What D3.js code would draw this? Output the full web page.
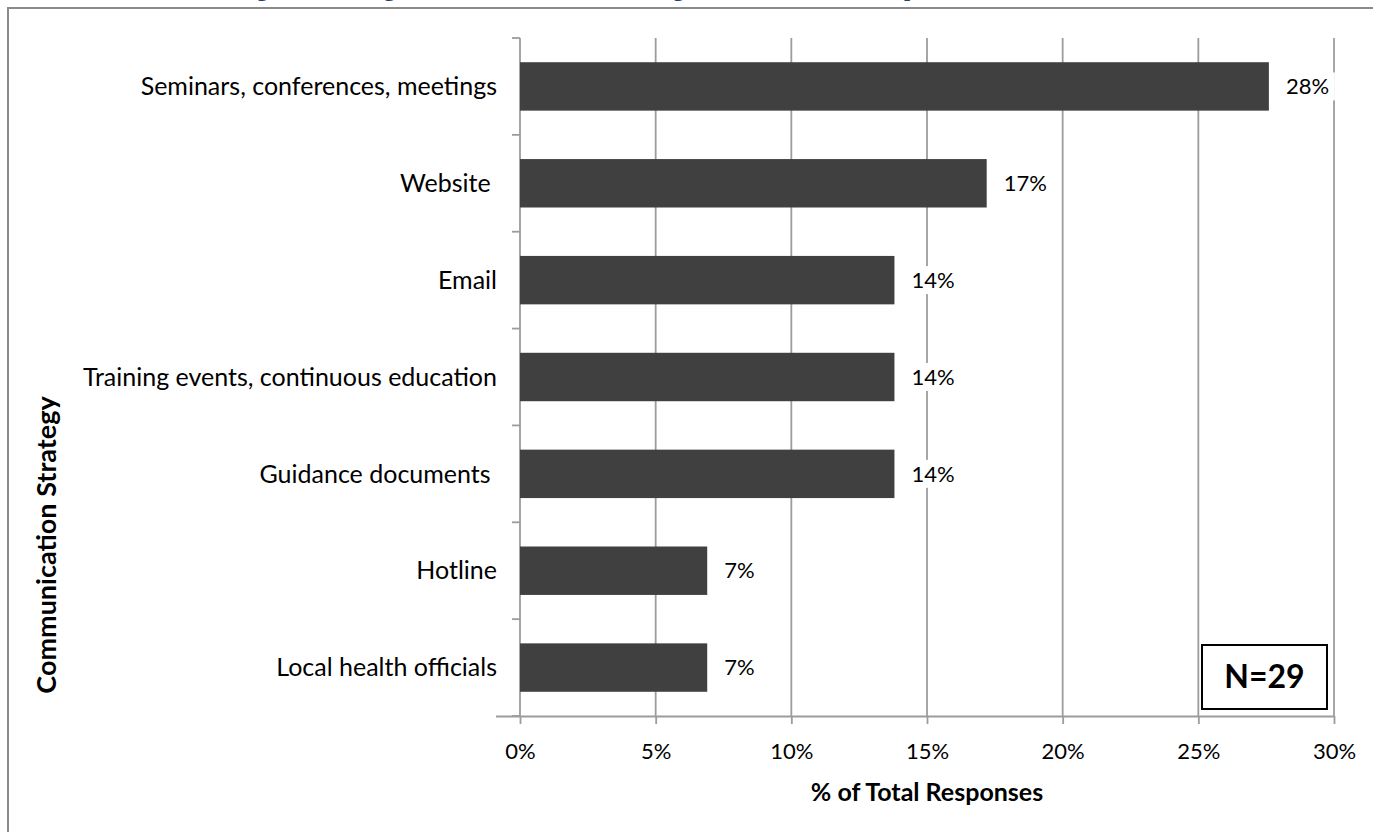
<!DOCTYPE html>
<html>
<head>
<meta charset="utf-8">
<script src="https://cdn.jsdelivr.net/npm/d3@7"></script>
<style>
  html, body { margin: 0; padding: 0; background: #fff; }
  svg { display: block; }
  text { white-space: pre; }
</style>
</head>
<body>
<script>
// ---- data ----
const categories = [
  "Seminars, conferences, meetings",
  "Website ",
  "Email",
  "Training events, continuous education",
  "Guidance documents ",
  "Hotline",
  "Local health officials"
];
const values = [0.276, 0.172, 0.138, 0.138, 0.138, 0.069, 0.069];
const xTickValues = [0, 0.05, 0.10, 0.15, 0.20, 0.25, 0.30];
const titleText = "Figure 7. Strategies Used when Communicating Guidance to Health Department Staff";
const xAxisTitle = "% of Total Responses";
const yAxisTitle = "Communication Strategy";
const noteText = "N=29";

// ---- layout ----
const W = 1373, H = 832;
const plot = { left: 520, right: 1334, top: 38, bottom: 716 };
const font = "Lato, 'Open Sans', sans-serif";
const grid = "#9c9c9c";

const svg = d3.select("body").append("svg").attr("width", W).attr("height", H);

// caption above the chart frame (cut off at the top edge, as in the source)
svg.append("text")
  .attr("x", 640).attr("y", -4)
  .attr("text-anchor", "middle")
  .attr("font-family", "'Liberation Serif', serif")
  .attr("font-weight", "bold")
  .attr("font-size", 22)
  .attr("fill", "#244061")
  .text(titleText);

// outer frame
svg.append("rect")
  .attr("x", 8).attr("y", 8).attr("width", W + 20).attr("height", H + 20)
  .attr("fill", "none").attr("stroke", "#8a8a8a").attr("stroke-width", 2);

const x = d3.scaleLinear().domain([0, 0.30]).range([plot.left, plot.right]);
const y = d3.scaleBand().domain(categories).range([plot.top, plot.bottom])
  .paddingInner(0.5).paddingOuter(0.25);
const step = y.step();

// vertical gridlines
svg.append("g").selectAll("line").data(xTickValues.filter(d => d > 0)).join("line")
  .attr("x1", d => x(d)).attr("x2", d => x(d))
  .attr("y1", plot.top).attr("y2", plot.bottom)
  .attr("stroke", grid).attr("stroke-width", 1.8);

// x axis
const xAxis = svg.append("g").attr("transform", `translate(0,${plot.bottom})`)
  .call(d3.axisBottom(x).tickValues(xTickValues).tickFormat(d3.format(".0%"))
    .tickSize(8).tickPadding(19).tickSizeOuter(0));
xAxis.select(".domain").attr("stroke", grid).attr("stroke-width", 1.8)
  .attr("d", `M${plot.left - 24},0.5H${plot.right}`);
xAxis.selectAll(".tick line").attr("stroke", grid).attr("stroke-width", 1.8);
xAxis.selectAll(".tick text").attr("font-family", font).attr("font-size", 22).attr("fill", "#000");

// y axis line and band-boundary ticks
svg.append("line")
  .attr("x1", plot.left).attr("x2", plot.left)
  .attr("y1", plot.top).attr("y2", plot.bottom)
  .attr("stroke", grid).attr("stroke-width", 1.8);
const boundaries = categories.map(c => y(c) - step * y.paddingInner() / 2);
boundaries.push(plot.bottom);
svg.append("g").selectAll("line").data(boundaries).join("line")
  .attr("x1", plot.left - 8).attr("x2", plot.left)
  .attr("y1", d => d).attr("y2", d => d)
  .attr("stroke", grid).attr("stroke-width", 1.8);

// category labels
svg.append("g").selectAll("text").data(categories).join("text")
  .attr("x", plot.left - 23)
  .attr("y", d => y(d) + y.bandwidth() / 2)
  .attr("dy", "0.35em")
  .attr("text-anchor", "end")
  .attr("font-family", font).attr("font-size", 25).attr("fill", "#000")
  .text(d => d);

// bars
svg.append("g").selectAll("rect").data(values).join("rect")
  .attr("x", x(0))
  .attr("y", (d, i) => y(categories[i]))
  .attr("width", d => x(d) - x(0))
  .attr("height", y.bandwidth())
  .attr("fill", "#404040");

// data labels with white background
const lbl = svg.append("g").selectAll("g").data(values).join("g")
  .attr("transform", (d, i) => `translate(${x(d) + 17},${y(categories[i]) + y.bandwidth() / 2})`);
lbl.append("rect")
  .attr("x", -3).attr("y", -14).attr("width", 52).attr("height", 28).attr("fill", "#fff");
lbl.append("text")
  .attr("dy", "0.35em")
  .attr("font-family", font).attr("font-size", 22).attr("fill", "#000")
  .text(d => d3.format(".0%")(d));

// axis titles
svg.append("text")
  .attr("x", (plot.left + plot.right) / 2).attr("y", 801)
  .attr("text-anchor", "middle")
  .attr("font-family", font).attr("font-weight", "bold").attr("font-size", 25).attr("fill", "#000")
  .text(xAxisTitle);
svg.append("text")
  .attr("transform", "translate(56,545) rotate(-90)")
  .attr("text-anchor", "middle")
  .attr("font-family", font).attr("font-weight", "bold").attr("font-size", 27).attr("fill", "#000")
  .text(yAxisTitle);

// N box
const nb = svg.append("g");
nb.append("rect").attr("x", 1202).attr("y", 645).attr("width", 125).attr("height", 64)
  .attr("fill", "#fff").attr("stroke", "#000").attr("stroke-width", 2);
nb.append("text").attr("x", 1264.5).attr("y", 677).attr("dy", "0.35em")
  .attr("text-anchor", "middle")
  .attr("font-family", font).attr("font-weight", "bold").attr("font-size", 32).attr("fill", "#000")
  .text(noteText);
</script>
</body>
</html>
